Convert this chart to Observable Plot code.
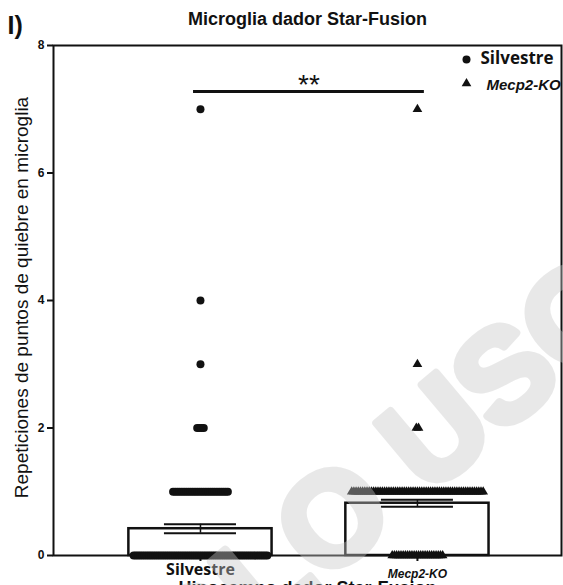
<!DOCTYPE html>
<html>
<head>
<meta charset="utf-8">
<script src="https://cdn.jsdelivr.net/npm/d3@7"></script>
<script src="https://cdn.jsdelivr.net/npm/@observablehq/plot@0.6"></script>
<style>
  html, body { margin: 0; padding: 0; background: #fff; }
  #chart svg { display: block; }
</style>
</head>
<body>
<div id="chart"></div>
<script>
// ---- data ----
const groups = ["Silvestre", "Mecp2-KO"];
const groupPos = [1, 2];
const means = [0.42, 0.82];
const sems = [0.07, 0.055];
const pointValues = [0, 1, 2, 3, 4, 7];
const silvestreCounts = [62, 26, 4, 1, 1, 1];
const koCounts = [24, 61, 2, 1, 0, 1];
const yTicks = [0, 2, 4, 6, 8];
const sigY = 7.28;
const sigLabel = "**";
const title = "Microglia dador Star-Fusion";
const xTitle = "Hipocampo dador Star-Fusion";
const yTitle = "Repeticiones de puntos de quiebre en microglia";
const panelLabel = "I)";

// ---- derived tables ----
const summary = groups.map((g, i) => ({group: g, pos: groupPos[i], mean: means[i], sem: sems[i]}));
const spread = 0.0101; // horizontal spacing of overlapping points (scatter spread)
const points = [];
[silvestreCounts, koCounts].forEach((counts, gi) => {
  counts.forEach((n, vi) => {
    for (let k = 0; k < n; k++) {
      points.push({group: groups[gi], pos: groupPos[gi], value: pointValues[vi], off: (k - (n - 1) / 2) * spread});
    }
  });
});
const barHalf = 0.33, capHalf = 0.166;
const sig = [{y: sigY, x1: groupPos[0] - 0.032, x2: groupPos[1] + 0.032, xm: (groupPos[0] + groupPos[1]) / 2, label: sigLabel}];

const ink = "#111";
const sans = "'Liberation Sans', Arial, sans-serif";
const cal = "'Open Sans', 'Liberation Sans', sans-serif";

const chart = Plot.plot({
  width: 563,
  height: 585,
  marginTop: 45,
  marginBottom: 30,
  marginLeft: 53,
  marginRight: 2,
  style: {fontFamily: sans, background: "#fff", color: ink},
  x: {domain: [0.3226, 2.664], axis: null},
  y: {domain: [0, 8], axis: null},
  marks: [
    // bars
    Plot.rectY(summary, {x1: d => d.pos - barHalf, x2: d => d.pos + barHalf, y1: 0, y2: "mean", fill: "white", stroke: ink, strokeWidth: 2.5}),
    // error bars
    Plot.ruleX(summary, {x: "pos", y1: d => d.mean - d.sem, y2: d => d.mean + d.sem, stroke: ink, strokeWidth: 1.5}),
    Plot.ruleY(summary, {y: d => d.mean + d.sem, x1: d => d.pos - capHalf, x2: d => d.pos + capHalf, stroke: ink, strokeWidth: 2}),
    Plot.ruleY(summary, {y: d => d.mean - d.sem, x1: d => d.pos - capHalf, x2: d => d.pos + capHalf, stroke: ink, strokeWidth: 2}),
    // frame & axes
    Plot.frame({stroke: ink, strokeWidth: 2}),
    Plot.axisY({ticks: yTicks, tickSize: 6, tickPadding: 3, fontSize: 12, fontWeight: "bold", label: null, strokeWidth: 2, fill: ink}),
    Plot.axisX({ticks: groupPos, tickSize: 6, tickFormat: () => "", label: null, strokeWidth: 2}),
    // points
    Plot.dot(points.filter(d => d.group === groups[0]), {x: d => d.pos + d.off, y: "value", r: 4, fill: ink, symbol: "circle"}),
    Plot.dot(points.filter(d => d.group === groups[1]), {x: d => d.pos + d.off, y: "value", r: 3.6, fill: ink, symbol: "triangle"}),
    // significance
    Plot.ruleY(sig, {y: "y", x1: "x1", x2: "x2", stroke: ink, strokeWidth: 3}),
    Plot.text(sig, {x: "xm", y: "y", text: "label", fontSize: 28, lineAnchor: "bottom", dy: 3, fill: ink}),
    // group labels
    Plot.text(summary.slice(0, 1), {x: "pos", y: 0, text: "group", fontFamily: cal, fontWeight: "bold", fontSize: 16, lineAnchor: "bottom", dy: 19, fill: ink}),
    Plot.text(summary.slice(1, 2), {x: "pos", y: 0, text: "group", fontWeight: "bold", fontStyle: "italic", fontSize: 12, lineAnchor: "bottom", dy: 22, fill: ink}),
    // titles
    Plot.text([title], {frameAnchor: "top", text: d => d, fontWeight: "bold", fontSize: 18, lineAnchor: "bottom", dy: -21, fill: ink}),
    Plot.text([panelLabel], {frameAnchor: "top-left", text: d => d, fontWeight: "bold", fontSize: 25, textAnchor: "start", lineAnchor: "bottom", dx: -46, dy: -12, fill: ink}),
    Plot.text([xTitle], {frameAnchor: "bottom", text: d => d, fontWeight: "bold", fontSize: 18, lineAnchor: "bottom", dy: 38, fill: ink}),
    Plot.text([yTitle], {frameAnchor: "left", text: d => d, fontSize: 19, rotate: -90, textAnchor: "middle", dx: -32, dy: -3, fill: ink}),
    // legend
    Plot.dot([groups[0]], {frameAnchor: "top-right", dx: -95, dy: 14, r: 4, fill: ink, symbol: "circle"}),
    Plot.dot([groups[1]], {frameAnchor: "top-right", dx: -95, dy: 38, r: 3.6, fill: ink, symbol: "triangle"}),
    Plot.text([groups[0]], {frameAnchor: "top-right", text: d => d, fontFamily: cal, fontWeight: "bold", fontSize: 17, textAnchor: "start", lineAnchor: "bottom", dx: -81, dy: 18, fill: ink}),
    Plot.text([groups[1]], {frameAnchor: "top-right", text: d => d, fontWeight: "bold", fontStyle: "italic", fontSize: 15, textAnchor: "start", lineAnchor: "bottom", dx: -75, dy: 44, fill: ink}),
    // watermark
    Plot.text(["SOLO USO"], {frameAnchor: "bottom-left", text: d => d, fontSize: 130, fontWeight: "bold", textAnchor: "end", lineAnchor: "bottom", rotate: -40, dx: 590, dy: -240, fill: "#c8c8c8", stroke: "#c8c8c8", strokeWidth: 8, strokeLinejoin: "round", opacity: 0.4})
  ]
});
document.getElementById("chart").appendChild(chart);
</script>
</body>
</html>
